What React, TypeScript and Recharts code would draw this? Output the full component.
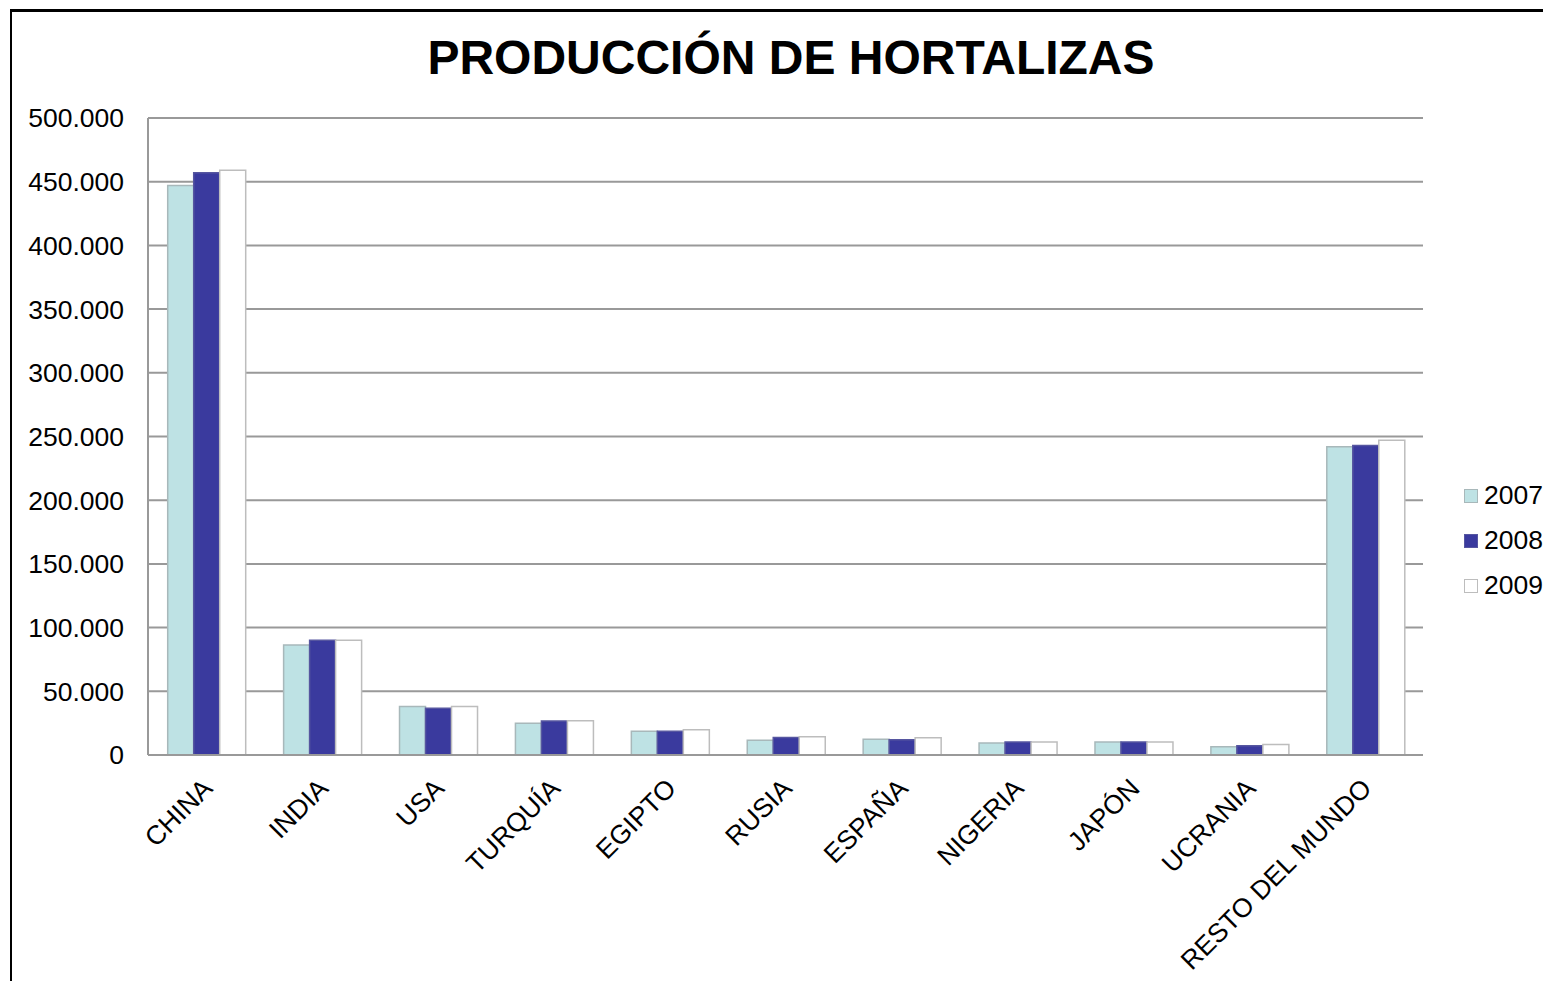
import React from "react";
import { BarChart, Bar, XAxis, YAxis, CartesianGrid } from "recharts";

const categories = ["CHINA", "INDIA", "USA", "TURQUÍA", "EGIPTO", "RUSIA", "ESPAÑA", "NIGERIA", "JAPÓN", "UCRANIA", "RESTO DEL MUNDO"];
const values2007 = [447000, 86300, 38000, 24900, 18600, 11500, 12400, 9400, 10200, 6500, 242000];
const values2008 = [457000, 90000, 36700, 26700, 18600, 13700, 12000, 10200, 10200, 7300, 243000];
const values2009 = [459000, 90000, 38000, 26900, 19900, 14400, 13600, 10200, 10200, 8300, 247000];
const yTicks = [0, 50000, 100000, 150000, 200000, 250000, 300000, 350000, 400000, 450000, 500000];
const seriesNames = ["2007", "2008", "2009"];
const seriesFill = ["#BEE2E4", "#3A3A9E", "#FFFFFF"];
const seriesStroke = ["#A8B8BA", "#5656A0", "#BDBDBD"];

const data = categories.map((c, i) => ({
  name: c,
  v2007: values2007[i],
  v2008: values2008[i],
  v2009: values2009[i],
}));
const keys = ["v2007", "v2008", "v2009"];

const FONT = "'Liberation Sans', Arial, sans-serif";

const fmt = (v: number) => {
  if (v === 0) return "0";
  const s = String(v);
  return s.replace(/\B(?=(\d{3})+(?!\d))/g, ".");
};

const XTick = (props: any) => {
  const { x, y, payload } = props;
  const ax = x + 8;
  const ay = y + 27;
  return (
    <text
      x={ax}
      y={ay}
      transform={`rotate(-45, ${ax}, ${ay})`}
      textAnchor="end"
      fontFamily={FONT}
      fontSize={26.5}
      fill="#000"
    >
      {payload.value}
    </text>
  );
};

export default function App() {
  return (
    <div style={{ position: "relative", width: 1551, height: 989, margin: -8, background: "#fff", overflow: "hidden" }}>
      <div
        style={{
          position: "absolute",
          left: 10,
          top: 9,
          width: 1700,
          height: 1200,
          borderLeft: "2px solid #000",
          borderTop: "3px solid #000",
        }}
      />
      <div
        style={{
          position: "absolute",
          left: 0,
          width: 1582,
          top: 28,
          textAlign: "center",
          fontFamily: FONT,
          fontWeight: "bold",
          fontSize: 48,
          lineHeight: "60px",
          color: "#000",
        }}
      >
        PRODUCCIÓN DE HORTALIZAS
      </div>
      <div style={{ position: "absolute", left: 0, top: 0 }}>
        <BarChart
          width={1551}
          height={989}
          data={data}
          margin={{ top: 118, right: 128, bottom: 0, left: 8 }}
          barCategoryGap="17%"
          barGap={0}
        >
          <CartesianGrid vertical={false} stroke="#999999" strokeWidth={2} />
          <XAxis
            dataKey="name"
            interval={0}
            tick={<XTick />}
            tickLine={false}
            axisLine={{ stroke: "#999999", strokeWidth: 2 }}
            height={234}
          />
          <YAxis
            width={140}
            domain={[0, 500000]}
            ticks={yTicks}
            tickFormatter={fmt}
            tickLine={false}
            tickSize={0}
            tickMargin={24}
            axisLine={{ stroke: "#999999", strokeWidth: 2 }}
            tick={{ fontFamily: FONT, fontSize: 26.5, fill: "#000" }}
          />
          {keys.map((k, i) => (
            <Bar
              key={k}
              dataKey={k}
              name={seriesNames[i]}
              fill={seriesFill[i]}
              stroke={seriesStroke[i]}
              strokeWidth={1.5}
              isAnimationActive={false}
            />
          ))}
        </BarChart>
      </div>
      <div style={{ position: "absolute", left: 1464, top: 473, fontFamily: FONT, fontSize: 26.5, color: "#000" }}>
        {seriesNames.map((n, i) => (
          <div key={n} style={{ display: "flex", alignItems: "center", height: 45 }}>
            <div
              style={{
                width: 12,
                height: 12,
                background: seriesFill[i],
                border: `1px solid ${seriesStroke[i]}`,
                marginRight: 6,
              }}
            />
            <span>{n}</span>
          </div>
        ))}
      </div>
    </div>
  );
}
